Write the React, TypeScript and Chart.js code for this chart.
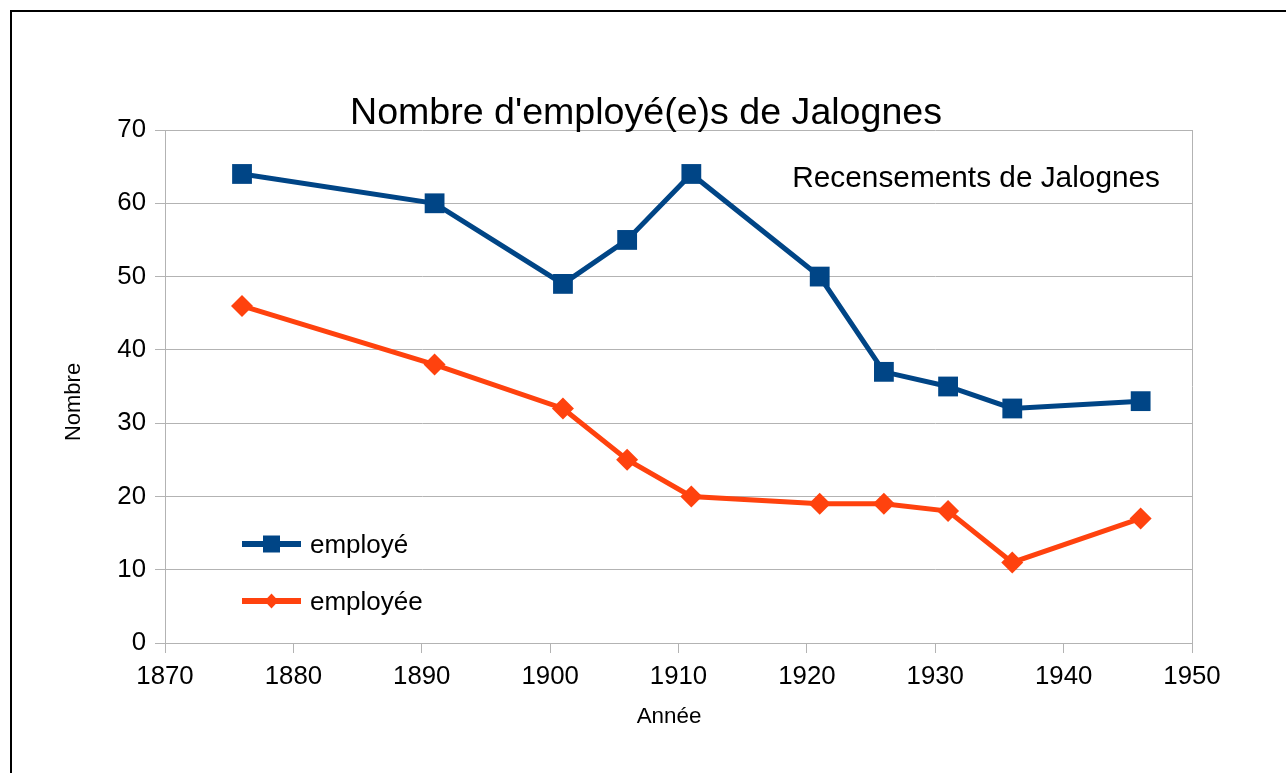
import React, { useEffect, useRef } from "react";
import { Chart, registerables } from "chart.js";

Chart.register(...registerables);

const years = [1876, 1891, 1901, 1906, 1911, 1921, 1926, 1931, 1936, 1946];
const employe = [64, 60, 49, 55, 64, 50, 37, 35, 32, 33];
const employee = [46, 38, 32, 25, 20, 19, 19, 18, 11, 17];
const seriesLabels = ["employé", "employée"];
const titleText = "Nombre d'employé(e)s de Jalognes";
const subtitleText = "Recensements de Jalognes";
const xTitleText = "Année";
const yTitleText = "Nombre";

const BLUE = "#004586";
const ORANGE = "#ff420e";
const GRID = "#b3b3b3";
const FONT = "'Liberation Sans', Arial, sans-serif";

const decorPlugin = {
  id: "decor",
  afterDraw(chart: any) {
    const ctx = chart.ctx as CanvasRenderingContext2D;
    ctx.save();
    // outer border
    ctx.strokeStyle = "#000";
    ctx.lineWidth = 2;
    ctx.beginPath();
    ctx.moveTo(11, 1400);
    ctx.lineTo(11, 11);
    ctx.lineTo(2000, 11);
    ctx.stroke();

    ctx.fillStyle = "#000";
    // title
    ctx.font = `37.6px ${FONT}`;
    ctx.textAlign = "center";
    ctx.textBaseline = "alphabetic";
    ctx.fillText(titleText, 646, 124);
    // subtitle
    ctx.font = `29.8px ${FONT}`;
    ctx.textAlign = "right";
    ctx.fillText(subtitleText, 1160, 187);
    // x title
    ctx.font = `22.4px ${FONT}`;
    ctx.textAlign = "center";
    ctx.fillText(xTitleText, 669, 723);
    // y title
    ctx.save();
    ctx.translate(80, 402);
    ctx.rotate(-Math.PI / 2);
    ctx.textAlign = "center";
    ctx.font = `22px ${FONT}`;
    ctx.fillText(yTitleText, 0, 0);
    ctx.restore();

    // legend
    const rows = [
      { y: 544, color: BLUE, shape: "square", label: seriesLabels[0] },
      { y: 601, color: ORANGE, shape: "diamond", label: seriesLabels[1] },
    ];
    for (const r of rows) {
      ctx.strokeStyle = r.color;
      ctx.fillStyle = r.color;
      ctx.lineWidth = 6;
      ctx.beginPath();
      ctx.moveTo(242, r.y);
      ctx.lineTo(301, r.y);
      ctx.stroke();
      ctx.beginPath();
      if (r.shape === "square") {
        ctx.rect(263, r.y - 8.5, 17, 17);
      } else {
        ctx.moveTo(271.5, r.y - 7.5);
        ctx.lineTo(278.5, r.y);
        ctx.lineTo(271.5, r.y + 7.5);
        ctx.lineTo(264.5, r.y);
        ctx.closePath();
      }
      ctx.fill();
      ctx.fillStyle = "#000";
      ctx.font = `26px ${FONT}`;
      ctx.textAlign = "left";
      ctx.fillText(r.label, 310, r.y + 9);
    }
    ctx.restore();
  },
};

export default function App() {
  const ref = useRef<HTMLCanvasElement | null>(null);

  useEffect(() => {
    if (!ref.current) return;
    const chart = new Chart(ref.current, {
      type: "line",
      data: {
        datasets: [
          {
            label: seriesLabels[0],
            data: years.map((x, i) => ({ x, y: employe[i] })),
            borderColor: BLUE,
            backgroundColor: BLUE,
            borderWidth: 5,
            pointStyle: "rect",
            pointRadius: 14,
            pointBorderWidth: 0,
            pointBackgroundColor: BLUE,
            tension: 0,
          },
          {
            label: seriesLabels[1],
            data: years.map((x, i) => ({ x, y: employee[i] })),
            borderColor: ORANGE,
            backgroundColor: ORANGE,
            borderWidth: 5,
            pointStyle: "rectRot",
            pointRadius: 11,
            pointBorderWidth: 0,
            pointBackgroundColor: ORANGE,
            tension: 0,
          },
        ],
      },
      options: {
        animation: false,
        responsive: true,
        maintainAspectRatio: false,
        devicePixelRatio: 1,
        layout: { padding: { top: 130, right: 94, left: 0, bottom: 0 } },
        plugins: {
          legend: { display: false },
          title: { display: false },
          tooltip: { enabled: false },
        },
        scales: {
          x: {
            type: "linear",
            min: 1870,
            max: 1950,
            afterFit: (s: any) => {
              s.height = 130;
            },
            ticks: {
              stepSize: 10,
              color: "#000",
              font: { family: FONT, size: 25.8 },
              padding: 8,
              maxRotation: 0,
              callback: (v: any) => String(v),
            },
            grid: {
              color: (c: any) =>
                c.tick && (c.tick.value === 1950 || c.tick.value === 1870) ? GRID : "rgba(0,0,0,0)",
              tickColor: GRID,
              tickLength: 10,
              lineWidth: 1,
            },
            border: { display: true, color: GRID },
          },
          y: {
            type: "linear",
            min: 0,
            max: 70,
            afterFit: (s: any) => {
              s.width = 165;
            },
            ticks: {
              stepSize: 10,
              color: "#000",
              font: { family: FONT, size: 25.8 },
              padding: 9,
            },
            grid: {
              color: GRID,
              tickColor: GRID,
              tickLength: 10,
              lineWidth: 1,
            },
            border: { display: true, color: GRID },
          },
        },
      },
      plugins: [decorPlugin],
    });
    return () => chart.destroy();
  }, []);

  return (
    <div style={{ position: "absolute", left: 0, top: 0, width: 1286, height: 773, background: "#fff" }}>
      <canvas ref={ref} />
    </div>
  );
}
